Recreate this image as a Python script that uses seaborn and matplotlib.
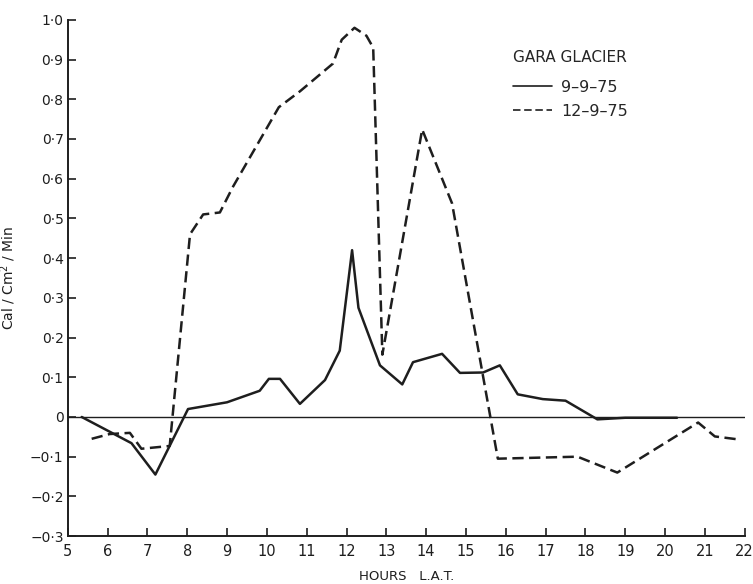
import matplotlib
import matplotlib.pyplot as plt
import numpy as np
import pandas as pd
import seaborn as sns

matplotlib.use("Agg")

# 9-9-75 (solid)
hours_a = [5.35, 6.6, 7.2, 8.02, 9.0, 9.82, 10.05, 10.33, 10.83, 11.46, 11.83,
           12.14, 12.3, 12.84, 13.4, 13.67, 14.4, 14.85, 15.43, 15.85, 16.3,
           16.93, 17.5, 18.3, 19.0, 20.3]
flux_a = [0.0, -0.066, -0.145, 0.02, 0.037, 0.066, 0.096, 0.096, 0.033, 0.093,
          0.167, 0.42, 0.275, 0.13, 0.082, 0.138, 0.159, 0.111, 0.112, 0.13,
          0.057, 0.045, 0.041, -0.006, -0.002, -0.002]

# 12-9-75 (dashed)
hours_b = [5.6, 6.05, 6.56, 6.85, 7.56, 8.07, 8.4, 8.82, 9.15, 10.3, 10.83,
           11.66, 11.88, 12.2, 12.5, 12.67, 12.9, 13.9, 14.65, 15.8, 17.8,
           18.8, 20.83, 21.25, 21.8]
flux_b = [-0.055, -0.043, -0.04, -0.08, -0.073, 0.46, 0.51, 0.515, 0.58, 0.78,
          0.82, 0.89, 0.95, 0.98, 0.96, 0.93, 0.157, 0.724, 0.538, -0.105,
          -0.10, -0.14, -0.014, -0.049, -0.056]

series_labels = ["9–9–75", "12–9–75"]
x_ticks = list(range(5, 23))
y_ticks = [1.0, 0.9, 0.8, 0.7, 0.6, 0.5, 0.4, 0.3, 0.2, 0.1, 0.0, -0.1, -0.2, -0.3]
y_tick_labels = ["1·0", "0·9", "0·8", "0·7", "0·6", "0·5", "0·4", "0·3", "0·2",
                 "0·1", "0", "−0·1", "−0·2", "−0·3"]

sns.set_style("ticks")
plt.rcParams["font.family"] = ["DejaVu Sans"]
ink = "#1e1e1e"

fig = plt.figure(figsize=(7.53, 5.84), dpi=100)
ax = fig.add_axes([0.090, 0.082, 0.899, 0.884])

ax.axhline(0, color=ink, linewidth=1.0, zorder=1)

sns.lineplot(x=hours_a, y=flux_a, ax=ax, color=ink, linewidth=1.8,
             label=series_labels[0], sort=False)
sns.lineplot(x=hours_b, y=flux_b, ax=ax, color=ink, linewidth=1.8,
             linestyle=(0, (4.5, 2.2)), label=series_labels[1], sort=False)

ax.set_xlim(5, 22)
ax.set_ylim(-0.3, 1.0)
ax.set_xticks(x_ticks)
ax.set_xticklabels([str(t) for t in x_ticks], fontsize=10.5, color=ink)
ax.set_yticks(y_ticks)
ax.set_yticklabels(y_tick_labels, fontsize=10, color=ink)
ax.tick_params(direction="in", length=6, width=1.2, colors=ink)
ax.tick_params(axis="y", pad=3)
ax.tick_params(axis="x", pad=6)

for side in ["top", "right"]:
    ax.spines[side].set_visible(False)
for side in ["left", "bottom"]:
    ax.spines[side].set_linewidth(1.4)
    ax.spines[side].set_color(ink)

ax.set_xlabel("HOURS   L.A.T.", fontsize=9.5, color=ink)
ax.xaxis.set_label_coords(0.5, -0.066)
ax.set_ylabel("Cal / Cm$^2$ / Min", fontsize=10, color=ink)
ax.yaxis.set_label_coords(-0.073, 0.5)

leg = ax.legend(title="GARA GLACIER", frameon=False, loc="upper left",
                bbox_to_anchor=(0.637, 0.97), fontsize=11.5, title_fontsize=11,
                handlelength=2.4, handletextpad=0.6, labelspacing=0.55)
leg._legend_box.align = "left"
leg._legend_box.sep = 11
for line in leg.get_lines():
    line.set_linewidth(1.2)

fig.savefig("out.png", dpi=100, facecolor="white")
